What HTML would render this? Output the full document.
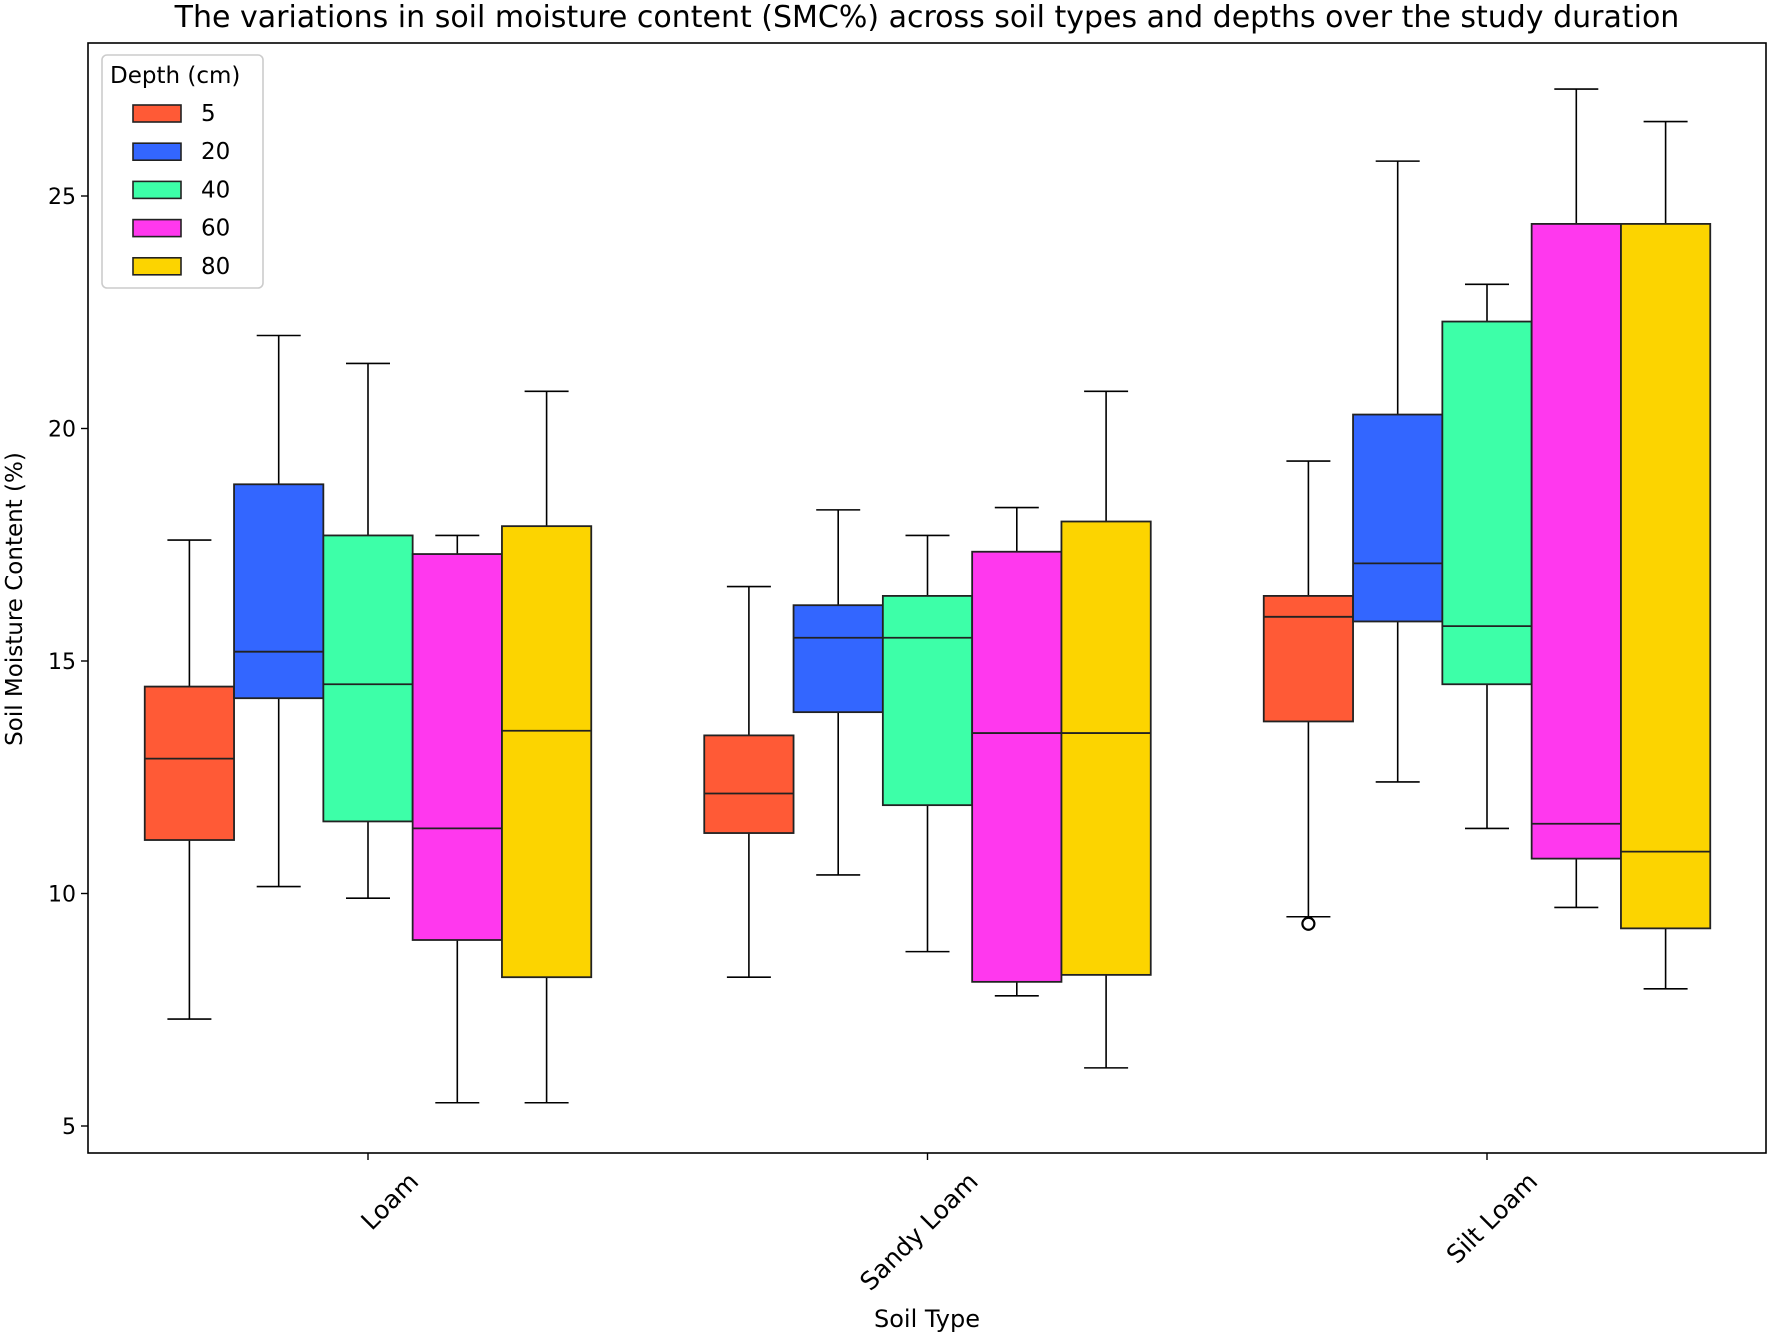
<!DOCTYPE html>
<html><head><meta charset="utf-8"><style>
body{margin:0;background:#fff}
svg text{font-family:"DejaVu Sans","Liberation Sans",sans-serif;fill:#000}
</style></head><body>
<svg id="c" width="1772" height="1335" xmlns="http://www.w3.org/2000/svg"></svg>
<script>
const categories=["Loam","Sandy Loam","Silt Loam"];
const depths=["5","20","40","60","80"];
const colors=["#ff5a36","#3366ff","#3dffa8","#ff38ee","#fcd400"];
const whiskLow=[[7.3,10.15,9.9,5.5,5.5],[8.2,10.4,8.75,7.8,6.25],[9.5,12.4,11.4,9.7,7.95]];
const q1=[[11.15,14.2,11.55,9.0,8.2],[11.3,13.9,11.9,8.1,8.25],[13.7,15.85,14.5,10.75,9.25]];
const med=[[12.9,15.2,14.5,11.4,13.5],[12.15,15.5,15.5,13.45,13.45],[15.95,17.1,15.75,11.5,10.9]];
const q3=[[14.45,18.8,17.7,17.3,17.9],[13.4,16.2,16.4,17.35,18.0],[16.4,20.3,22.3,24.4,24.4]];
const whiskHigh=[[17.6,22.0,21.4,17.7,20.8],[16.6,18.25,17.7,18.3,20.8],[19.3,25.75,23.1,27.3,26.6]];
const outliers=[[2,0,9.35]];
const yTicks=[5,10,15,20,25];

const svg=document.getElementById('c');const NS='http://www.w3.org/2000/svg';
function el(t,a,p){const e=document.createElementNS(NS,t);for(const k in a)e.setAttribute(k,a[k]);(p||svg).appendChild(e);return e;}
const L=88,R=1766,T=43,B=1153;
const y=v=>1126-(v-5)*46.5;
const catX=i=>368+i*559.5;
const bw=89.3;
const bx=(i,j)=>catX(i)+(j-2)*bw;
let t=el('text',{x:927,y:27,'text-anchor':'middle','font-size':30});t.textContent="The variations in soil moisture content (SMC%) across soil types and depths over the study duration";

for(let i=0;i<3;i++)for(let j=0;j<5;j++){
 const g=el('g',{});
 
 
 const cx=bx(i,j);
 el('line',{x1:cx,x2:cx,y1:y(whiskLow[i][j]),y2:y(q1[i][j]),stroke:'#000','stroke-width':1.6},g);
 el('line',{x1:cx,x2:cx,y1:y(q3[i][j]),y2:y(whiskHigh[i][j]),stroke:'#000','stroke-width':1.6},g);
 el('line',{x1:cx-22,x2:cx+22,y1:y(whiskLow[i][j]),y2:y(whiskLow[i][j]),stroke:'#000','stroke-width':1.6},g);
 el('line',{x1:cx-22,x2:cx+22,y1:y(whiskHigh[i][j]),y2:y(whiskHigh[i][j]),stroke:'#000','stroke-width':1.6},g);
 el('rect',{x:cx-bw/2,y:y(q3[i][j]),width:bw,height:y(q1[i][j])-y(q3[i][j]),fill:colors[j],stroke:'#222','stroke-width':1.8},g);
 el('line',{x1:cx-bw/2,x2:cx+bw/2,y1:y(med[i][j]),y2:y(med[i][j]),stroke:'#222','stroke-width':1.8},g);
}
outliers.forEach(o=>{const c=el('circle',{cx:bx(o[0],o[1]),cy:y(o[2]),r:6,fill:'none',stroke:'#000','stroke-width':2.2});
 });
const fr=el('rect',{x:L,y:T,width:R-L,height:B-T,fill:'none',stroke:'#000','stroke-width':1.6});

yTicks.forEach(v=>{el('line',{x1:L-7,x2:L,y1:y(v),y2:y(v),stroke:'#000','stroke-width':1.4});
 const tx=el('text',{x:L-12,y:y(v)+8,'text-anchor':'end','font-size':22});tx.textContent=v;
 });
categories.forEach((c,i)=>{const x=catX(i);el('line',{x1:x,x2:x,y1:B,y2:B+7,stroke:'#000','stroke-width':1.4});
 const tx=el('text',{x:0,y:0,'text-anchor':'end','font-size':25,transform:`translate(${x+52},${B+30}) rotate(-45)`});tx.textContent=c;
 });
let xl=el('text',{x:927,y:1327,'text-anchor':'middle','font-size':24});xl.textContent="Soil Type";

let yl=el('text',{x:0,y:0,'text-anchor':'middle','font-size':23,transform:'translate(22,599) rotate(-90)'});yl.textContent="Soil Moisture Content (%)";

const lg=el('g',{});
el('rect',{x:102,y:55,width:161,height:233,rx:5,fill:'#fff',stroke:'#ccc','stroke-width':1.6},lg);
let lt=el('text',{x:110,y:83,'font-size':23},lg);lt.textContent="Depth (cm)";
depths.forEach((d,j)=>{const yy=113+j*38.2;
 const e=el('g',{},lg);
 el('rect',{x:133,y:yy-8,width:48,height:17,fill:colors[j],stroke:'#222','stroke-width':1.6},e);
 const tx=el('text',{x:201,y:yy+8,'font-size':23},e);tx.textContent=d;});
</script>
</body></html>
